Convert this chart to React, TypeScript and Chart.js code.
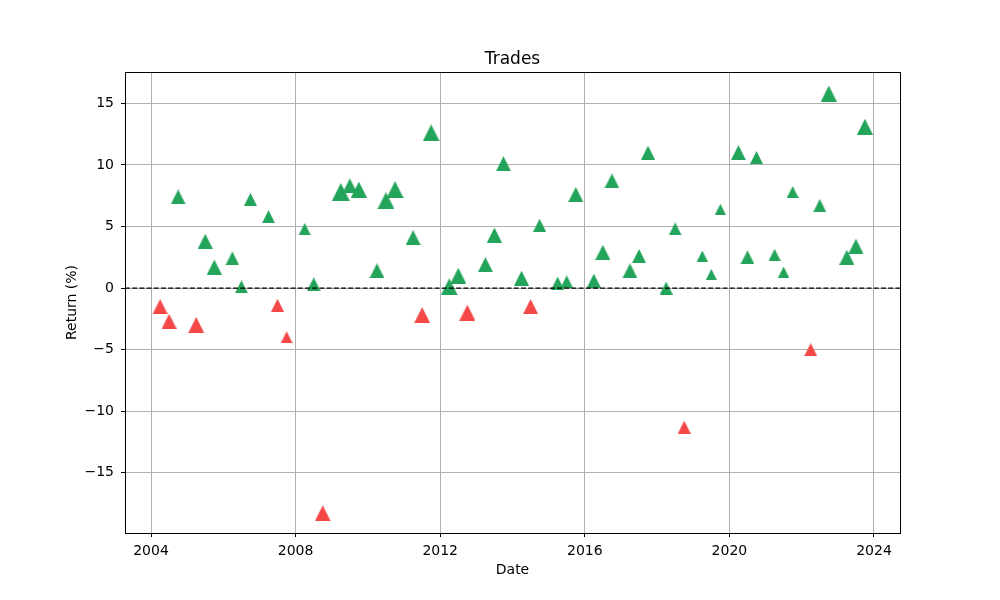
import React, { useEffect, useRef } from "react";
import { Chart, registerables } from "chart.js";

Chart.register(...registerables);

// Trade dates (decimal years) and returns (%)
const tradeDates: number[] = [
  2004.25, 2004.5, 2004.75, 2005.25, 2005.5, 2005.75, 2006.25, 2006.5, 2006.75, 2007.25,
  2007.5, 2007.75, 2008.25, 2008.5, 2008.75, 2009.25, 2009.5, 2009.75, 2010.25, 2010.5,
  2010.75, 2011.25, 2011.5, 2011.75, 2012.25, 2012.5, 2012.75, 2013.25, 2013.5, 2013.75,
  2014.25, 2014.5, 2014.75, 2015.25, 2015.5, 2015.75, 2016.25, 2016.5, 2016.75, 2017.25,
  2017.5, 2017.75, 2018.25, 2018.5, 2018.75, 2019.25, 2019.5, 2019.75, 2020.25, 2020.5,
  2020.75, 2021.25, 2021.5, 2021.75, 2022.25, 2022.5, 2022.75, 2023.25, 2023.5, 2023.75,
];

const tradeReturns: number[] = [
  -1.5, -2.7, 7.4, -3.0, 3.8, 1.7, 2.4, 0.1, 7.2, 5.8,
  -1.4, -4.0, 4.8, 0.3, -18.3, 7.8, 8.3, 8.0, 1.4, 7.1,
  8.0, 4.1, -2.2, 12.6, 0.1, 1.0, -2.0, 1.9, 4.3, 10.1,
  0.8, -1.5, 5.1, 0.4, 0.5, 7.6, 0.6, 2.9, 8.7, 1.4,
  2.6, 11.0, 0.0, 4.8, -11.3, 2.6, 1.1, 6.4, 11.0, 2.5,
  10.6, 2.7, 1.3, 7.8, -5.0, 6.7, 15.8, 2.5, 3.4, 13.1,
];

// Relative trade size (drives marker size)
const tradeSizes: number[] = [
  15, 15, 15, 16, 15, 15, 14, 13, 13, 13,
  13, 12, 12, 14, 16, 18, 15, 16, 15, 17,
  17, 15, 16, 17, 17, 16, 16, 15, 15, 15,
  15, 15, 13, 13, 13, 15, 14, 15, 15, 15,
  14, 14, 13, 13, 13, 11, 11, 11, 15, 14,
  13, 12, 11, 12, 13, 13, 16, 15, 15, 16,
];

const xTickValues: number[] = [2004, 2008, 2012, 2016, 2020, 2024];
const yTickValues: number[] = [-15, -10, -5, 0, 5, 10, 15];

const X_MIN = 2003.28;
const X_MAX = 2024.72;
const Y_MIN = -19.9;
const Y_MAX = 17.55;

const WIN_COLOR = "#22a45a";
const LOSS_COLOR = "#f44848";
const FONT = "'DejaVu Sans', sans-serif";

function makeTriangle(size: number, color: string): HTMLCanvasElement {
  const c = document.createElement("canvas");
  c.width = size;
  c.height = size;
  const g = c.getContext("2d")!;
  g.fillStyle = color;
  g.beginPath();
  g.moveTo(size / 2, 0);
  g.lineTo(size, size);
  g.lineTo(0, size);
  g.closePath();
  g.fill();
  return c;
}

export default function App() {
  const ref = useRef<HTMLCanvasElement>(null);

  useEffect(() => {
    if (!ref.current) return;
    const images = tradeReturns.map((v, i) =>
      makeTriangle(tradeSizes[i], v < 0 ? LOSS_COLOR : WIN_COLOR)
    );

    const framePlugin = {
      id: "frameAndTitle",
      afterDraw(chart: any) {
        const { ctx, chartArea } = chart;
        ctx.save();
        ctx.strokeStyle = "#000";
        ctx.lineWidth = 1;
        ctx.strokeRect(chartArea.left + 0.5, chartArea.top + 0.5, chartArea.right - chartArea.left, chartArea.bottom - chartArea.top);
        ctx.fillStyle = "#000";
        ctx.font = `17px ${FONT}`;
        ctx.textAlign = "center";
        ctx.textBaseline = "middle";
        ctx.fillText("Trades", (chartArea.left + chartArea.right) / 2, 59.5);
        ctx.restore();
      },
    };

    const chart = new Chart(ref.current, {
      type: "scatter",
      data: {
        datasets: [
          {
            type: "line",
            data: [
              { x: X_MIN, y: 0 },
              { x: X_MAX, y: 0 },
            ],
            borderColor: "#000",
            borderWidth: 1.2,
            borderDash: [5, 2.2],
            pointRadius: 0,
            fill: false,
          } as any,
          {
            data: tradeDates.map((d, i) => ({ x: d, y: tradeReturns[i] })),
            pointStyle: (ctx: any) => images[ctx.dataIndex],
            pointRadius: (ctx: any) => tradeSizes[ctx.dataIndex] / 2,
            backgroundColor: (ctx: any) => (tradeReturns[ctx.dataIndex] < 0 ? LOSS_COLOR : WIN_COLOR),
          } as any,
        ],
      },
      options: {
        responsive: false,
        animation: false,
        layout: { padding: { top: 72, right: 100, left: 0, bottom: 0 } },
        plugins: {
          legend: { display: false },
          tooltip: { enabled: false },
        },
        scales: {
          x: {
            type: "linear",
            min: X_MIN,
            max: X_MAX,
            afterBuildTicks: (s: any) => {
              s.ticks = xTickValues.map((v) => ({ value: v }));
            },
            afterFit: (s: any) => {
              s.height = 67;
            },
            ticks: {
              color: "#000",
              font: { family: FONT, size: 14 },
              padding: 6,
              maxRotation: 0,
              autoSkip: false,
              callback: (v: any) => String(Math.round(Number(v))),
            },
            grid: {
              color: "#b0b0b0",
              lineWidth: 1,
              tickColor: "#000",
              tickLength: 4,
              drawTicks: true,
            },
            border: { color: "#000", width: 1 },
            title: {
              display: true,
              text: "Date",
              color: "#000",
              font: { family: FONT, size: 14 },
              padding: { top: 0, bottom: 21.6 },
            },
          },
          y: {
            type: "linear",
            min: Y_MIN,
            max: Y_MAX,
            afterBuildTicks: (s: any) => {
              s.ticks = yTickValues.map((v) => ({ value: v }));
            },
            afterFit: (s: any) => {
              s.width = 125;
            },
            ticks: {
              color: "#000",
              font: { family: FONT, size: 14 },
              padding: 7,
              callback: (v: any) => {
                const n = Number(v);
                return n < 0 ? "\u2212" + Math.abs(n) : String(n);
              },
            },
            grid: {
              color: "#b0b0b0",
              lineWidth: 1,
              tickColor: "#000",
              tickLength: 4,
            },
            border: { color: "#000", width: 1 },
            title: {
              display: true,
              text: "Return (%)",
              color: "#000",
              font: { family: FONT, size: 14 },
              padding: { top: 63.6, bottom: 0 },
            },
          },
        },
      },
      plugins: [framePlugin],
    } as any);

    return () => chart.destroy();
  }, []);

  return (
    <div style={{ position: "absolute", left: 0, top: 0, width: 1000, height: 600, background: "#fff" }}>
      <canvas ref={ref} width={1000} height={600} style={{ display: "block" }} />
    </div>
  );
}
